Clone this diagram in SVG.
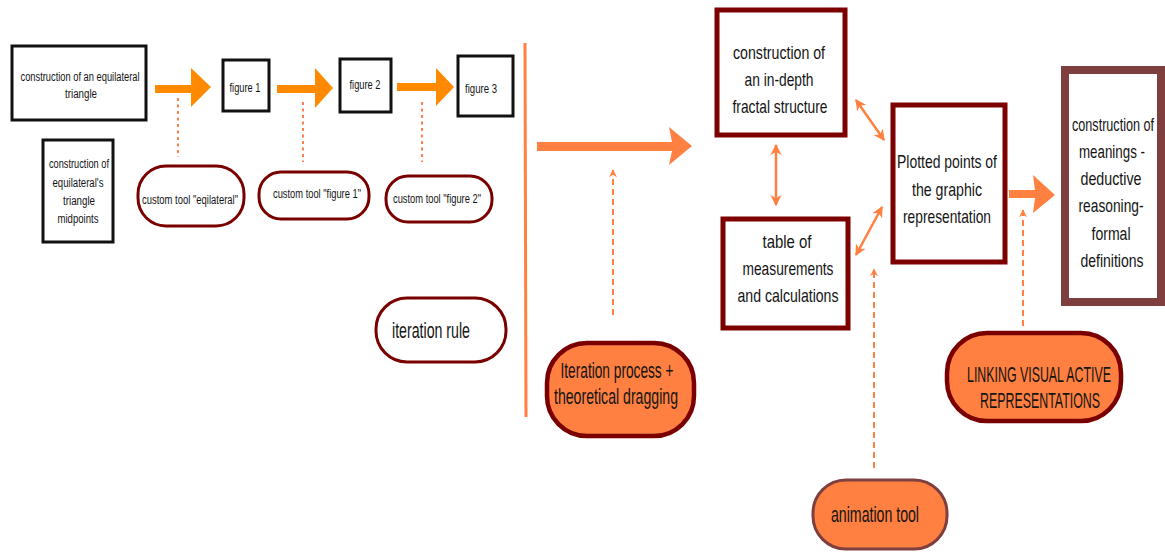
<svg xmlns="http://www.w3.org/2000/svg" width="1165" height="553" viewBox="0 0 1165 553">
  <defs>
    <style>
      text { font-family: "Liberation Sans", Arial, sans-serif; fill: #141414; text-anchor: middle; }
      .small { font-size: 12.5px; }
      .big { font-size: 18.5px; }
      .pilltext { font-size: 22px; }
      .tall { font-size: 14px; }
      .tall-pill { font-size: 16px; }
      .black-box { fill: #ffffff; stroke: #111111; stroke-width: 3; }
      .red-box { fill: #ffffff; stroke: #7d0000; stroke-width: 5; }
      .pill-white { fill: #ffffff; stroke: #7a0000; stroke-width: 3; }
      .pill-orange { fill: #ff8040; stroke: #7a0000; stroke-width: 4.5; }
      .dotted { stroke: #ff7f50; stroke-width: 2; stroke-dasharray: 3 3.5; fill: none; }
      .dashed { stroke: #ff8040; stroke-width: 2; stroke-dasharray: 6 4; fill: none; }
      .dbl { stroke: #ff8040; stroke-width: 2.5; fill: none; }
    </style>
    <marker id="tipDash" viewBox="0 0 10 10" refX="9" refY="5" markerWidth="4" markerHeight="4" orient="auto">
      <path d="M0,0 L10,5 L0,10 L3,5 z" fill="#ff8040"/>
    </marker>
    <marker id="tipDbl" viewBox="0 0 10 10" refX="9" refY="5" markerWidth="4.5" markerHeight="4.5" orient="auto-start-reverse">
      <path d="M0,0 L10,5 L0,10 L3,5 z" fill="#ff8040"/>
    </marker>
  </defs>

  <rect width="1165" height="553" fill="#ffffff"/>

  <!-- connectors -->
  <g id="connectors">
    <!-- thick orange arrows between the figures -->
    <path d="M155,85 H191 V68 L211,87 L191,107 V93 H155 z" fill="#ff8a00"/>
    <path d="M277,85 H315 V68 L333,88 L315,108 V93 H277 z" fill="#ff8a00"/>
    <path d="M397,83 H436 V68 L454,87 L436,106 V91 H397 z" fill="#ff8a00"/>

    <!-- dotted links to the custom tools -->
    <line class="dotted" x1="178" y1="98" x2="178" y2="157"/>
    <line class="dotted" x1="303" y1="102" x2="303" y2="162"/>
    <line class="dotted" x1="422" y1="102" x2="422" y2="162"/>

    <!-- separator -->
    <line x1="525" y1="43" x2="526" y2="417" stroke="#ff8040" stroke-width="3"/>

    <!-- main horizontal arrow -->
    <path d="M537,142 H672 L669,127 L692,146 L669,165 L672,151 H537 z" fill="#ff8040"/>

    <!-- arrow to the meanings box -->
    <path d="M1009,190 H1035 L1033,175 L1055,195 L1033,213 L1035,198 H1009 z" fill="#ff8040"/>

    <!-- dashed upward arrows -->
    <line class="dashed" x1="613" y1="315" x2="613" y2="170" marker-end="url(#tipDash)"/>
    <line class="dashed" x1="874" y1="468" x2="874" y2="269" marker-end="url(#tipDash)"/>
    <line class="dashed" x1="1023" y1="326" x2="1023" y2="210" marker-end="url(#tipDash)"/>

    <!-- two-way arrows -->
    <line class="dbl" x1="776" y1="145" x2="776" y2="205" marker-start="url(#tipDbl)" marker-end="url(#tipDbl)"/>
    <line class="dbl" x1="856" y1="100" x2="884" y2="140" marker-start="url(#tipDbl)" marker-end="url(#tipDbl)"/>
    <line class="dbl" x1="856" y1="255" x2="882" y2="207" marker-start="url(#tipDbl)" marker-end="url(#tipDbl)"/>
  </g>

  <!-- left part: construction steps -->
  <g id="node-equilateral">
    <rect class="black-box" x="12" y="46" width="134" height="74"/>
    <text class="small" x="80" y="81" textLength="119" lengthAdjust="spacingAndGlyphs">construction of an equilateral</text>
    <text class="small" x="81" y="98" textLength="32" lengthAdjust="spacingAndGlyphs">triangle</text>
  </g>

  <g id="node-midpoints">
    <rect class="black-box" x="43" y="140" width="70" height="102"/>
    <text class="small" x="79" y="168" textLength="60" lengthAdjust="spacingAndGlyphs">construction of</text>
    <text class="small" x="78" y="187" textLength="51" lengthAdjust="spacingAndGlyphs">equilateral's</text>
    <text class="small" x="79" y="205" textLength="32" lengthAdjust="spacingAndGlyphs">triangle</text>
    <text class="small" x="78" y="223" textLength="41" lengthAdjust="spacingAndGlyphs">midpoints</text>
  </g>

  <g id="node-figure1">
    <rect class="black-box" x="223" y="60" width="46" height="51"/>
    <text class="small" x="245" y="92" textLength="31" lengthAdjust="spacingAndGlyphs">figure 1</text>
  </g>

  <g id="node-figure2">
    <rect class="black-box" x="340" y="59" width="51" height="53"/>
    <text class="small" x="365" y="89" textLength="31" lengthAdjust="spacingAndGlyphs">figure 2</text>
  </g>

  <g id="node-figure3">
    <rect class="black-box" x="458" y="56" width="55" height="60"/>
    <text class="small" x="481" y="93" textLength="32" lengthAdjust="spacingAndGlyphs">figure 3</text>
  </g>

  <g id="node-tool-eqilateral">
    <rect class="pill-white" x="138" y="166" width="106" height="60" rx="28"/>
    <text class="small" x="190" y="204" textLength="96" lengthAdjust="spacingAndGlyphs">custom tool "eqilateral"</text>
  </g>

  <g id="node-tool-figure1">
    <rect class="pill-white" x="259" y="172" width="110" height="47" rx="22"/>
    <text class="small" x="317" y="198" textLength="88" lengthAdjust="spacingAndGlyphs">custom tool "figure 1"</text>
  </g>

  <g id="node-tool-figure2">
    <rect class="pill-white" x="386" y="176" width="106" height="46" rx="22"/>
    <text class="small" x="437" y="203" textLength="88" lengthAdjust="spacingAndGlyphs">custom tool "figure 2"</text>
  </g>

  <g id="node-iteration-rule">
    <rect class="pill-white" x="376" y="298" width="130" height="64" rx="31" stroke-width="4"/>
    <text class="pilltext" x="431" y="338" textLength="78" lengthAdjust="spacingAndGlyphs">iteration rule</text>
  </g>

  <g id="node-iteration-process">
    <rect class="pill-orange" x="547" y="343" width="147" height="93" rx="40"/>
    <text class="pilltext" x="617" y="378" textLength="113" lengthAdjust="spacingAndGlyphs">Iteration process +</text>
    <text class="pilltext" x="616" y="404" textLength="124" lengthAdjust="spacingAndGlyphs">theoretical dragging</text>
  </g>

  <!-- right part: representations -->
  <g id="node-fractal">
    <rect class="red-box" x="717" y="10" width="128" height="125"/>
    <text class="big" x="779" y="59" textLength="92" lengthAdjust="spacingAndGlyphs">construction of</text>
    <text class="big" x="779" y="86" textLength="69" lengthAdjust="spacingAndGlyphs">an in-depth</text>
    <text class="big" x="780" y="113" textLength="95" lengthAdjust="spacingAndGlyphs">fractal structure</text>
  </g>

  <g id="node-table">
    <rect class="red-box" x="723" y="219" width="125" height="109"/>
    <text class="big" x="787" y="248" textLength="49" lengthAdjust="spacingAndGlyphs">table of</text>
    <text class="big" x="788" y="275" textLength="91" lengthAdjust="spacingAndGlyphs">measurements</text>
    <text class="big" x="788" y="302" textLength="101" lengthAdjust="spacingAndGlyphs">and calculations</text>
  </g>

  <g id="node-plotted">
    <rect class="red-box" x="893" y="105" width="112" height="157"/>
    <text class="big" x="947" y="168" textLength="100" lengthAdjust="spacingAndGlyphs">Plotted points of</text>
    <text class="big" x="947" y="196" textLength="70" lengthAdjust="spacingAndGlyphs">the graphic</text>
    <text class="big" x="947" y="223" textLength="88" lengthAdjust="spacingAndGlyphs">representation</text>
  </g>

  <!-- tall, narrow lettering: smaller face stretched vertically -->
  <g id="node-meanings">
    <rect x="1065" y="70" width="96" height="232" fill="#ffffff" stroke="#7f3f3f" stroke-width="8"/>
    <text class="tall" transform="translate(1113,131) scale(1,1.32)" textLength="82" lengthAdjust="spacingAndGlyphs">construction of</text>
    <text class="tall" transform="translate(1112,158) scale(1,1.32)" textLength="66" lengthAdjust="spacingAndGlyphs">meanings -</text>
    <text class="tall" transform="translate(1111,185) scale(1,1.32)" textLength="61" lengthAdjust="spacingAndGlyphs">deductive</text>
    <text class="tall" transform="translate(1111,212) scale(1,1.32)" textLength="65" lengthAdjust="spacingAndGlyphs">reasoning-</text>
    <text class="tall" transform="translate(1111,240) scale(1,1.32)" textLength="39" lengthAdjust="spacingAndGlyphs">formal</text>
    <text class="tall" transform="translate(1112,267) scale(1,1.32)" textLength="63" lengthAdjust="spacingAndGlyphs">definitions</text>
  </g>

  <g id="node-linking">
    <rect class="pill-orange" x="947" y="333" width="174" height="88" rx="40"/>
    <text class="tall-pill" transform="translate(1039,382) scale(1,1.375)" textLength="144" lengthAdjust="spacingAndGlyphs">LINKING VISUAL ACTIVE</text>
    <text class="tall-pill" transform="translate(1040,408) scale(1,1.375)" textLength="120" lengthAdjust="spacingAndGlyphs">REPRESENTATIONS</text>
  </g>

  <g id="node-animation">
    <rect x="813" y="480" width="134" height="69" rx="33" fill="#ff8040" stroke="#7f3f3f" stroke-width="3"/>
    <text class="pilltext" x="875" y="522" textLength="88" lengthAdjust="spacingAndGlyphs">animation tool</text>
  </g>
</svg>
